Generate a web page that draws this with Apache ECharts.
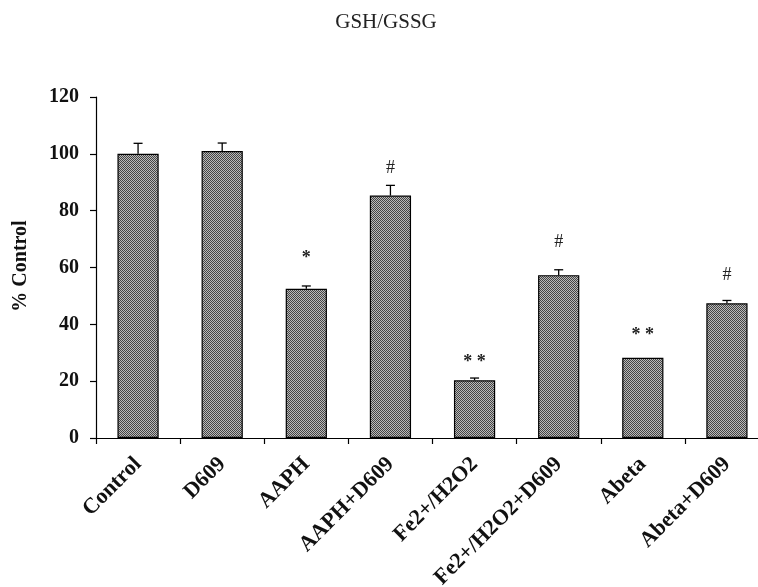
<!DOCTYPE html>
<html>
<head>
<meta charset="utf-8">
<script src="https://cdn.jsdelivr.net/npm/echarts@6/dist/echarts.min.js"></script>
<style>
html,body{margin:0;padding:0;background:#fff;}
#chart{width:758px;height:587px;}
</style>
</head>
<body>
<div id="chart"></div>
<script>
const titleText = 'GSH/GSSG';
const yAxisTitle = '% Control';
const categories = ['Control', 'D609', 'AAPH', 'AAPH+D609', 'Fe2+/H2O2', 'Fe2+/H2O2+D609', 'Abeta', 'Abeta+D609'];
const values = [100, 101, 52.5, 85.3, 20.3, 57.3, 28.2, 47.4];
const errors = [3.7, 2.8, 1.0, 3.6, 0.8, 1.9, 0, 1.0];
const marks = ['', '', '*', '#', '* *', '#', '* *', '#'];
const markLevels = [null, null, 65, 95, 28.3, 69, 38, 57.3];
const yTicks = [0, 20, 40, 60, 80, 100, 120];

// hatched/dotted fill pattern
const pat = document.createElement('canvas');
pat.width = 2; pat.height = 2;
const pctx = pat.getContext('2d');
pctx.fillStyle = '#bababa'; pctx.fillRect(0, 0, 2, 2);
pctx.fillStyle = '#444444'; pctx.fillRect(0, 0, 1, 1); pctx.fillRect(1, 1, 1, 1);

const chart = echarts.init(document.getElementById('chart'));
const serif = '"Liberation Serif", "DejaVu Serif", serif';

const option = {
  animation: false,
  backgroundColor: '#fff',
  grid: { left: 96, right: -11, top: 97, bottom: 149, containLabel: false, outerBoundsMode: 'none' },
  graphic: [
    { type: 'text', x: 386, y: 22, style: { text: titleText, font: '21px ' + serif, fill: '#222', align: 'center', verticalAlign: 'middle' } },
    { type: 'text', x: 21, y: 266, rotation: Math.PI / 2, style: { text: yAxisTitle, font: 'bold 20px ' + serif, fill: '#111', align: 'center', verticalAlign: 'middle' } }
  ],
  xAxis: {
    type: 'category',
    data: categories,
    boundaryGap: true,
    axisLine: { lineStyle: { color: '#000', width: 1.2 } },
    axisTick: { show: true, length: 6, lineStyle: { color: '#000', width: 1.2 } },
    axisLabel: { rotate: 45, interval: 0, margin: 23, hideOverlap: false, fontFamily: serif, fontWeight: 'bold', fontSize: 22, color: '#111' },
    splitLine: { show: false }
  },
  yAxis: {
    type: 'value',
    min: yTicks[0], max: yTicks[yTicks.length - 1], interval: 20,
    axisLine: { show: true, lineStyle: { color: '#000', width: 1.2 } },
    axisTick: { show: true, length: 6, lineStyle: { color: '#000', width: 1.2 } },
    axisLabel: { margin: 17, fontFamily: serif, fontWeight: 'bold', fontSize: 20, color: '#111' },
    splitLine: { show: false }
  },
  series: [
    {
      type: 'bar',
      data: values,
      barWidth: '49%',
      itemStyle: { color: { image: pat, repeat: 'repeat' }, borderColor: '#000', borderWidth: 1.2 },
      z: 2
    },
    {
      type: 'custom',
      z: 3,
      data: values.map((v, i) => [i, v, errors[i]]),
      renderItem: function (params, api) {
        const i = api.value(0), v = api.value(1), e = api.value(2);
        if (!e) return null;
        const b = api.coord([i, v]);
        const t = api.coord([i, v + e]);
        const h = 4.5;
        return {
          type: 'group',
          children: [
            { type: 'line', shape: { x1: b[0], y1: b[1], x2: t[0], y2: t[1] }, style: { stroke: '#000', lineWidth: 1.3 } },
            { type: 'line', shape: { x1: t[0] - h, y1: t[1], x2: t[0] + h, y2: t[1] }, style: { stroke: '#000', lineWidth: 1.3 } }
          ]
        };
      }
    },
    {
      type: 'custom',
      z: 3,
      data: markLevels.map((m, i) => [i, m == null ? 0 : m]),
      renderItem: function (params, api) {
        const i = api.value(0);
        const txt = marks[i];
        if (!txt) return null;
        const p = api.coord([i, api.value(1)]);
        const isHash = txt === '#';
        return {
          type: 'text',
          x: p[0], y: p[1] + (isHash ? 0 : 5),
          style: { text: txt, font: (isHash ? '18px ' : 'bold 18px ') + serif, fill: '#222', align: 'center', verticalAlign: 'middle' }
        };
      }
    }
  ]
};
chart.setOption(option);
</script>
</body>
</html>
